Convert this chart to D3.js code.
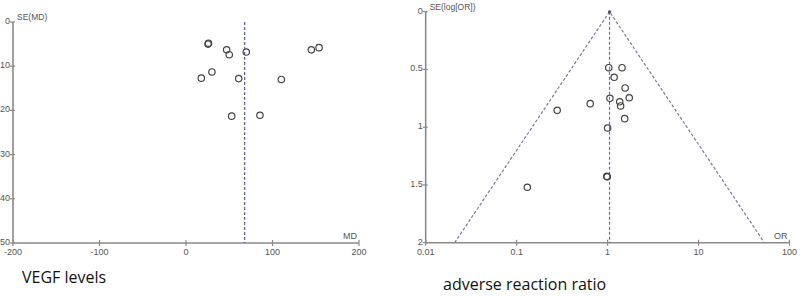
<!DOCTYPE html>
<html><head><meta charset="utf-8">
<script src="https://cdn.jsdelivr.net/npm/d3@7"></script>
<style>body{margin:0;background:#fff}svg{display:block}</style>
</head><body>
<svg id="c" width="800" height="297"></svg>
<script>
// Left panel: VEGF levels (MD vs SE(MD))
const vegfMD = [25.5, 26, 47, 50, 69.7, 144.9, 153.8, 30, 17.7, 60.9, 110.2, 52.8, 85.5];
const vegfSE = [5.0, 4.8, 6.3, 7.4, 6.8, 6.3, 5.8, 11.3, 12.7, 12.8, 13.0, 21.3, 21.1];
const vegfPooled = 67.8;
const vegfXTicks = [-200, -100, 0, 100, 200];
const vegfYTicks = [0, 10, 20, 30, 40, 50];

// Right panel: adverse reaction ratio (OR vs SE(log[OR]))
const aeOR = [1.03, 1.44, 1.18, 1.56, 1.73, 1.06, 1.36, 1.39, 0.644, 0.279, 1.54, 1.0, 0.98, 0.99, 0.131];
const aeSE = [0.485, 0.485, 0.568, 0.66, 0.745, 0.75, 0.78, 0.816, 0.796, 0.854, 0.926, 1.007, 1.425, 1.43, 1.52];
const aePooled = 1.05;
const aeXTicks = [0.01, 0.1, 1, 10, 100];
const aeXLabels = ["0.01", "0.1", "1", "10", "100"];
const aeYTicks = [0, 0.5, 1, 1.5, 2];

const svg = d3.select("#c");
const axisCol = "#8a8a8a", textCol = "#555";
const tickFont = "'Liberation Sans Narrow','Liberation Sans',Arial,sans-serif";

function panel(g, x, y, xTicks, xLabels, yTicks, yLabelFmt, yTitle, xTitle) {
  const [x0, x1] = x.range();
  const [y0, y1] = y.range();
  g.append("line").attr("x1", x0).attr("x2", x0).attr("y1", y0).attr("y2", y1)
    .attr("stroke", axisCol).attr("stroke-width", 1.6);
  g.append("line").attr("x1", x0).attr("x2", x1).attr("y1", y1).attr("y2", y1)
    .attr("stroke", axisCol).attr("stroke-width", 1.6);
  yTicks.forEach(t => {
    g.append("line").attr("x1", x0 - 3).attr("x2", x0 + 2).attr("y1", y(t)).attr("y2", y(t))
      .attr("stroke", axisCol).attr("stroke-width", 1.2);
    g.append("text").attr("x", x0 - 3).attr("y", y(t) + 2).attr("text-anchor", "end")
      .attr("font-size", 9).attr("font-family", tickFont).attr("fill", textCol).text(yLabelFmt(t));
  });
  xTicks.forEach((t, i) => {
    g.append("line").attr("x1", x(t)).attr("x2", x(t)).attr("y1", y1 - 3).attr("y2", y1 + 3)
      .attr("stroke", axisCol).attr("stroke-width", 1.2);
    g.append("text").attr("x", x(t)).attr("y", y1 + 12).attr("text-anchor", "middle")
      .attr("font-size", 9).attr("font-family", tickFont).attr("fill", textCol).text(xLabels[i]);
  });
  g.append("text").attr("x", x0 + 4).attr("y", y0 - 2).attr("font-size", 8.5)
    .attr("font-family", tickFont).attr("fill", textCol).text(yTitle);
  g.append("text").attr("x", x1 - 2).attr("y", y1 - 4).attr("text-anchor", "end").attr("font-size", 9)
    .attr("font-family", tickFont).attr("fill", textCol).text(xTitle);
}

// ---- left
{
  const x = d3.scaleLinear().domain([-200, 200]).range([13, 359]);
  const y = d3.scaleLinear().domain([0, 50]).range([22, 243]);
  const g = svg.append("g");
  panel(g, x, y, vegfXTicks, vegfXTicks.map(String), vegfYTicks, d => String(d), "SE(MD)", "MD");
  g.append("line").attr("x1", x(vegfPooled)).attr("x2", x(vegfPooled)).attr("y1", y(0)).attr("y2", y(50))
    .attr("stroke", "#5a5aa8").attr("stroke-width", 1.2).attr("stroke-dasharray", "3,2");
  g.selectAll("circle.p").data(vegfMD).join("circle")
    .attr("cx", (d) => x(d)).attr("cy", (d, i) => y(vegfSE[i])).attr("r", 3.2)
    .attr("fill", "none").attr("stroke", "#444").attr("stroke-width", 1.2);
  g.append("text").attr("x", 22).attr("y", 283).attr("font-size", 16)
    .attr("font-family", "'Open Sans',sans-serif").attr("fill", "#111").text("VEGF levels");
}

// ---- right
{
  const x = d3.scaleLog().domain([0.01, 100]).range([425.7, 789.5]);
  const y = d3.scaleLinear().domain([0, 2]).range([11.7, 242.7]);
  const g = svg.append("g");
  panel(g, x, y, aeXTicks, aeXLabels, aeYTicks, d => String(d), "SE(log[OR])", "OR");
  const lp = Math.log(aePooled);
  const seMax = aeYTicks[aeYTicks.length - 1];
  const funnel = [[Math.exp(lp - 1.96 * seMax), seMax], [aePooled, 0], [Math.exp(lp + 1.96 * seMax), seMax]];
  g.append("path").attr("d", d3.line().x(d => x(d[0])).y(d => y(d[1]))(funnel))
    .attr("fill", "none").attr("stroke", "#7a7a9c").attr("stroke-width", 1.2).attr("stroke-dasharray", "3,2");
  g.append("line").attr("x1", x(aePooled)).attr("x2", x(aePooled)).attr("y1", y(0)).attr("y2", y(2))
    .attr("stroke", "#6a6aa8").attr("stroke-width", 1.2).attr("stroke-dasharray", "3,2");
  g.append("circle").attr("cx", x(aePooled)).attr("cy", y(0)).attr("r", 1.5).attr("fill", "#445");
  g.selectAll("circle.p").data(aeOR).join("circle")
    .attr("cx", d => x(d)).attr("cy", (d, i) => y(aeSE[i])).attr("r", 3.2)
    .attr("fill", "none").attr("stroke", "#444").attr("stroke-width", 1.2);
  g.append("text").attr("x", 443).attr("y", 290).attr("font-size", 16)
    .attr("font-family", "'Open Sans',sans-serif").attr("fill", "#111").text("adverse reaction ratio");
}
</script>
</body></html>
